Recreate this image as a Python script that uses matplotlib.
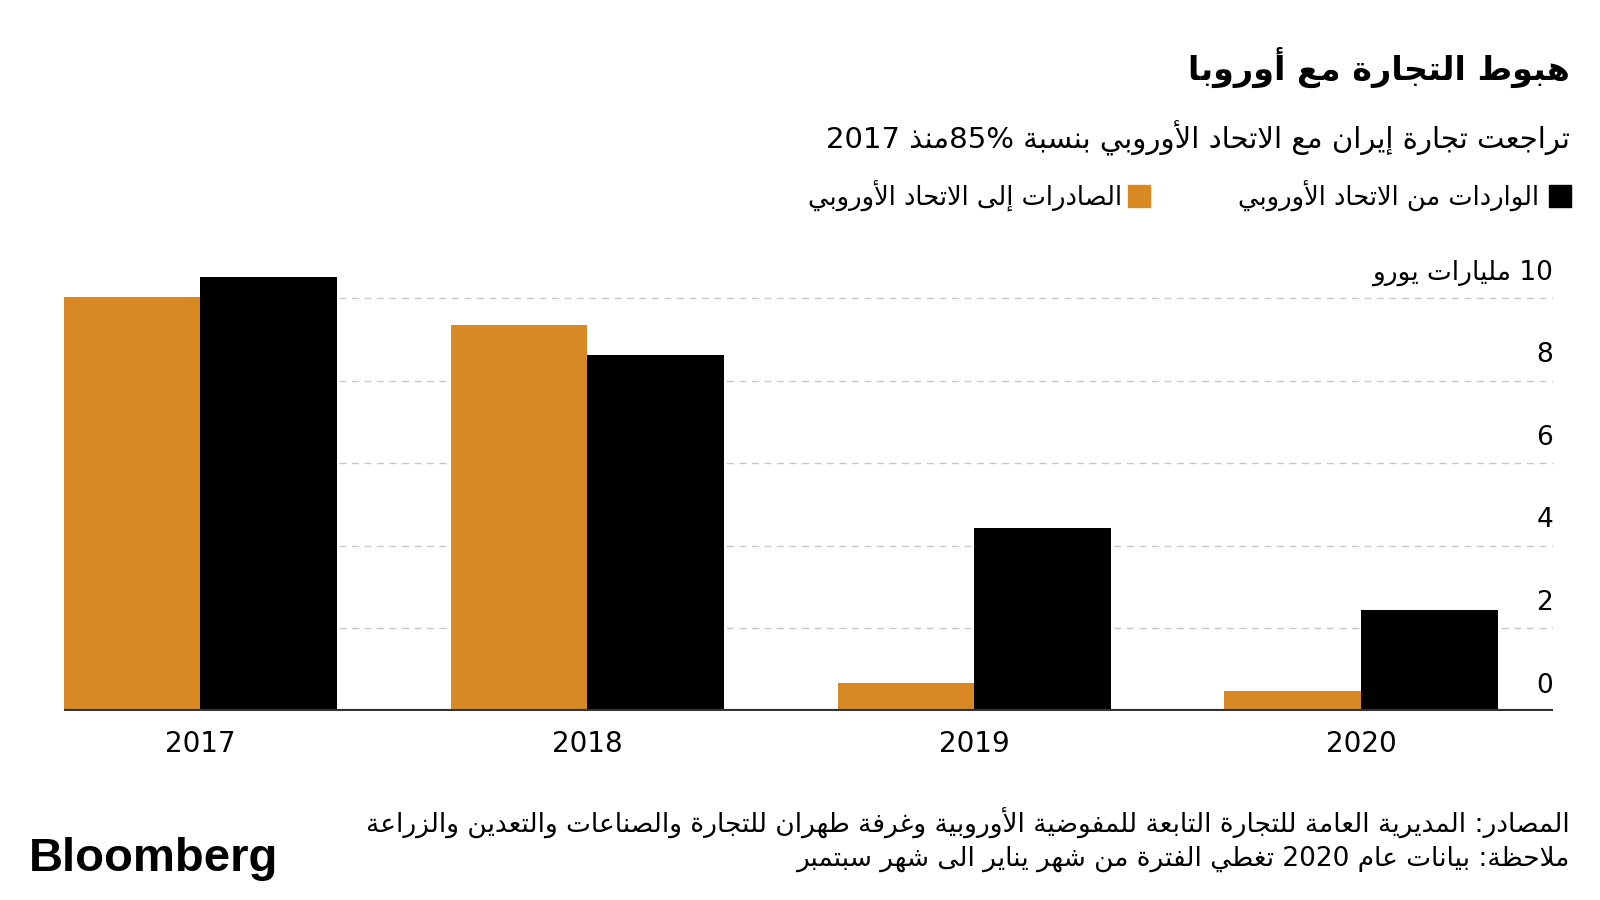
import re
import matplotlib
matplotlib.use('Agg')
import matplotlib.pyplot as plt
import numpy as np
from matplotlib.patches import Rectangle
from matplotlib.transforms import blended_transform_factory

# data (billion euro)
years = ['2017', '2018', '2019', '2020']
exports_to_eu = [10.03, 9.34, 0.67, 0.49]
imports_from_eu = [10.5, 8.62, 4.44, 2.45]
yticks = [0, 2, 4, 6, 8, 10]

title = 'هبوط التجارة مع أوروبا'
subtitle = 'تراجعت تجارة إيران مع الاتحاد الأوروبي بنسبة 85%منذ 2017'
label_imports = 'الواردات من الاتحاد الأوروبي'
label_exports = 'الصادرات إلى الاتحاد الأوروبي'
unit_label = '10 مليارات يورو'
source = 'المصادر: المديرية العامة للتجارة التابعة للمفوضية الأوروبية وغرفة طهران للتجارة والصناعات والتعدين والزراعة'
note = 'ملاحظة: بيانات عام 2020 تغطي الفترة من شهر يناير الى شهر سبتمبر'

ORANGE = '#d98924'

# --- minimal arabic shaping + right-to-left ordering (matplotlib has no text layout engine)
_letters = 'ءآأؤإئابةتثجحخدذرزسشصضطظعغفقكلمنهوىي'
_nforms = [1, 2, 2, 2, 2, 4, 2, 4, 2] + [4] * 5 + [2] * 4 + [4] * 15 + [2, 2, 4]
FORMS = {}
cp = 0xFE80
for ch, n in zip(_letters, _nforms):
    FORMS[ch] = [chr(cp + k) for k in range(n)]
    cp += n
LAMALEF = {'آ': 0xFEF5, 'أ': 0xFEF7, 'إ': 0xFEF9, 'ا': 0xFEFB}


def shape(s):
    items = []
    i = 0
    while i < len(s):
        if s[i] == 'ل' and i + 1 < len(s) and s[i + 1] in LAMALEF:
            items.append(('LA', s[i + 1]))
            i += 2
        else:
            items.append(s[i])
            i += 1

    def joins_next(it):
        return isinstance(it, str) and it in FORMS and len(FORMS[it]) == 4

    def is_ar(it):
        return isinstance(it, tuple) or (it in FORMS and len(FORMS[it]) > 1)

    out = []
    for k, it in enumerate(items):
        prev = items[k - 1] if k > 0 else None
        nxt = items[k + 1] if k + 1 < len(items) else None
        jp = prev is not None and joins_next(prev) and is_ar(it)
        if isinstance(it, tuple):
            out.append(chr(LAMALEF[it[1]] + (1 if jp else 0)))
            continue
        if it not in FORMS:
            out.append(it)
            continue
        f = FORMS[it]
        jn = len(f) == 4 and nxt is not None and is_ar(nxt)
        if jp and jn:
            out.append(f[3])
        elif jp:
            out.append(f[1])
        elif jn:
            out.append(f[2])
        else:
            out.append(f[0])
    return ''.join(out)


def ar(s):
    s = shape(s)
    parts = re.findall(r'[0-9][0-9.,%]*|[^0-9]+', s)
    return ''.join(p if p[0].isdigit() else p[::-1] for p in reversed(parts))


plt.rcParams['font.family'] = ['DejaVu Sans']

fig = plt.figure(figsize=(16, 9), dpi=100)
ax = fig.add_axes([0.04, 0.21, 0.9306, 0.4864])

x = np.arange(len(years))
w = 0.353
ax.bar(x - w / 2, exports_to_eu, w, color=ORANGE, zorder=2)
ax.bar(x + w / 2, imports_from_eu, w, color='black', zorder=2)

for v in yticks[1:]:
    ax.axhline(v, color='#c8c8c8', lw=1, ls=(0, (5, 4)), zorder=1)
ax.axhline(0, color='#333333', lw=3, zorder=3)

ax.set_xlim(-0.352, 3.496)
ax.set_ylim(0, 10.6)
ax.set_yticks([])
ax.set_xticks(x)
ax.set_xticklabels(years, fontsize=20)
ax.tick_params(axis='x', length=0, pad=14)
for s in ax.spines.values():
    s.set_visible(False)

tr = blended_transform_factory(ax.transAxes, ax.transData)
for v in yticks:
    lab = ar(unit_label) if v == 10 else str(v)
    ax.text(1.0, v + 0.3, lab, transform=tr, ha='right', va='bottom', fontsize=19)

# header
fig.text(0.981, 0.925, ar(title), ha='right', va='center', fontsize=24, fontweight='bold')
fig.text(0.981, 0.846, ar(subtitle), ha='right', va='center', fontsize=21)

# legend
fig.add_artist(Rectangle((1549 / 1600, 1 - 207 / 900), 22 / 1600, 22 / 900,
                         transform=fig.transFigure, color='black'))
fig.text(1539 / 1600, 1 - 196 / 900, ar(label_imports), ha='right', va='center', fontsize=18.5)
fig.add_artist(Rectangle((1128 / 1600, 1 - 207 / 900), 22 / 1600, 22 / 900,
                         transform=fig.transFigure, color=ORANGE))
fig.text(1122 / 1600, 1 - 196 / 900, ar(label_exports), ha='right', va='center', fontsize=18.5)

# footer
fig.text(0.981, 1 - 823 / 900, ar(source), ha='right', va='center', fontsize=19)
fig.text(0.981, 1 - 859 / 900, ar(note), ha='right', va='center', fontsize=19)
fig.text(29 / 1600, 1 - 859 / 900, 'Bloomberg', ha='left', va='center', fontsize=34,
         fontweight='bold', family='Liberation Sans')

fig.savefig('out.png', dpi=100)
